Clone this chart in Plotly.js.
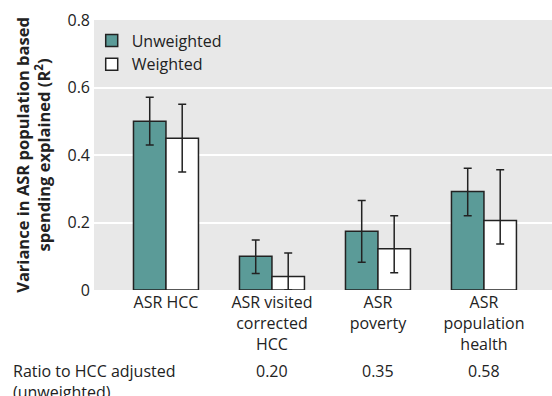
<!DOCTYPE html>
<html>
<head>
<meta charset="utf-8">
<script src="https://cdn.plot.ly/plotly-3.0.1.min.js"></script>
<style>html,body{margin:0;padding:0;background:#fff;}#chart{width:552px;height:396px;}</style>
</head>
<body>
<div id="chart"></div>
<script>
var categories = ["ASR HCC", "ASR visited<br>corrected<br>HCC", "ASR<br>poverty", "ASR<br>population<br>health"];
var unweighted = [0.50, 0.10, 0.174, 0.292];
var unweightedUpper = [0.571, 0.148, 0.265, 0.361];
var unweightedLower = [0.43, 0.049, 0.082, 0.22];
var weighted = [0.45, 0.04, 0.122, 0.206];
var weightedUpper = [0.55, 0.11, 0.22, 0.356];
var weightedLower = [0.35, 0.0, 0.051, 0.136];
var ratioLabels = ["", "0.20", "0.35", "0.58"];
var yTicks = [0, 0.2, 0.4, 0.6, 0.8];
var yTickLabels = ["0", "0.2", "0.4", "0.6", "0.8"];

var FONT = "Open Sans, sans-serif";
var FS = 16;
var idx = categories.map(function(_, i){ return i; });
function plus(v, u){ return v.map(function(x,i){ return u[i]-x; }); }
function minus(v, l){ return v.map(function(x,i){ return x-l[i]; }); }

var traces = [
  {type:"bar", name:"Unweighted", x:idx, y:unweighted,
   marker:{color:"#5b9b98", line:{color:"#222", width:1.5}},
   error_y:{type:"data", symmetric:false, array:plus(unweighted, unweightedUpper), arrayminus:minus(unweighted, unweightedLower), color:"#222", thickness:1.5, width:4}},
  {type:"bar", name:"Weighted", x:idx, y:weighted,
   marker:{color:"#ffffff", line:{color:"#222", width:1.5}},
   error_y:{type:"data", symmetric:false, array:plus(weighted, weightedUpper), arrayminus:minus(weighted, weightedLower), color:"#222", thickness:1.5, width:4}}
];

var annotations = [
  {xref:"paper", yref:"paper", x:-0.182, y:-0.25, xanchor:"left", yanchor:"top", align:"left", showarrow:false,
   text:"Ratio to HCC adjusted<br>(unweighted)", font:{family:FONT, size:FS, color:"#222"}}
];
ratioLabels.forEach(function(t,i){
  if(t) annotations.push({xref:"x", yref:"paper", x:i, y:-0.25, yanchor:"top", showarrow:false, text:t, font:{family:FONT, size:FS, color:"#222"}});
});

var layout = {
  width:552, height:396,
  margin:{l:94, r:0, t:20, b:106},
  paper_bgcolor:"#ffffff", plot_bgcolor:"#e8e8e8",
  barmode:"group", bargap:0.387, bargroupgap:0,
  font:{family:FONT, size:FS, color:"#222"},
  xaxis:{range:[-0.679, 3.642], tickmode:"array", tickvals:idx, ticktext:categories, showgrid:false, zeroline:false, showline:false, ticks:"", ticklabelstandoff:1, tickfont:{family:FONT, size:FS, color:"#222"}},
  yaxis:{range:[0, 0.8], tickmode:"array", tickvals:yTicks, ticktext:yTickLabels, showgrid:true, gridcolor:"#ffffff", gridwidth:2, zeroline:false, showline:false, ticks:"", ticklabelstandoff:3,
    tickfont:{family:FONT, size:FS, color:"#222"},
    title:{text:"<b>Variance in ASR population based<br>spending explained (R<sup>2</sup>)</b>", font:{family:FONT, size:16.5, color:"#222"}, standoff:12}},
  legend:{x:-0.005, y:0.987, xanchor:"left", yanchor:"top", bgcolor:"rgba(0,0,0,0)", tracegroupgap:0, font:{family:FONT, size:FS, color:"#222"}},
  showlegend:true,
  annotations:annotations
};
Plotly.newPlot("chart", traces, layout, {displayModeBar:false, staticPlot:true});
</script>
</body>
</html>
